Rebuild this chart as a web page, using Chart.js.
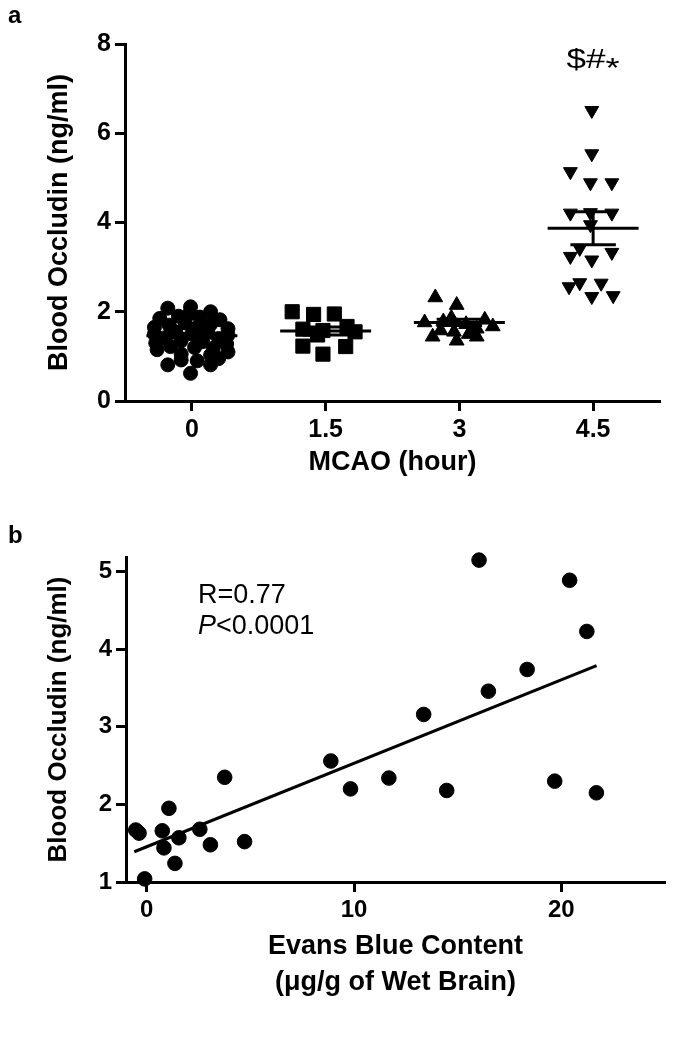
<!DOCTYPE html>
<html>
<head>
<meta charset="utf-8">
<script src="https://cdn.jsdelivr.net/npm/chart.js@4.4.0/dist/chart.umd.min.js"></script>
<style>
  html, body { margin: 0; padding: 0; background: #fff; }
  #wrap { position: relative; width: 675px; height: 1052px; }
  #chartA { position: absolute; left: 0; top: 0; }
  #chartB { position: absolute; left: 0; top: 480px; }
</style>
</head>
<body>
<div id="wrap">
  <canvas id="chartA" width="675" height="480"></canvas>
  <canvas id="chartB" width="675" height="572"></canvas>
</div>
<script>
// ---- panel a: occludin by MCAO duration ----
const hourLabels = ['0', '1.5', '3', '4.5'];
const yTicksA = [0, 2, 4, 6, 8];

const hour0 = [2.08, 2.11, 2.00, 1.85, 1.82, 1.90, 1.88, 1.95, 1.65, 1.62, 1.70, 1.72, 1.75, 1.68,
  1.50, 1.48, 1.55, 1.50, 1.55, 1.42, 1.40, 1.30, 1.28, 1.35, 1.33, 1.22, 1.20, 1.18,
  1.15, 1.10, 1.03, 1.05, 0.81, 0.81, 0.92, 0.95, 0.62, 0.90];
const hour0Jitter = [-0.18, -0.01, 0.14, -0.24, 0.21, -0.10, 0.06, -0.02, -0.28, 0.27, -0.17, 0.14, -0.05, 0.05,
  -0.28, 0.27, -0.12, 0.00, 0.12, -0.20, 0.20, -0.27, 0.26, -0.08, 0.08, -0.16, 0.02, 0.16,
  -0.26, 0.27, 0.14, -0.08, -0.18, 0.14, -0.08, 0.20, -0.01, 0.04];

const hour15 = [2.00, 1.94, 1.95, 1.61, 1.58, 1.67, 1.55, 1.48, 1.23, 1.05, 1.22];
const hour15Jitter = [-0.25, -0.09, 0.065, -0.17, -0.02, 0.16, 0.22, -0.06, -0.17, -0.02, 0.15];

const hour3 = [2.32, 2.15, 1.86, 1.82, 1.76, 1.67, 1.72, 1.78, 1.62, 1.55, 1.44, 1.44, 1.35, 1.50, 1.58];
const hour3Jitter = [-0.18, -0.02, -0.06, 0.19, -0.26, 0.25, 0.05, -0.12, 0.13, -0.04, -0.20, 0.13, -0.02, 0.07, -0.14];

const hour45 = [6.51, 5.54, 5.14, 4.89, 4.89, 4.21, 4.22, 4.21, 3.95, 3.42, 3.24, 3.16, 3.33, 2.56, 2.65, 2.64, 2.34, 2.36];
const hour45Jitter = [-0.01, -0.01, -0.17, -0.02, 0.14, -0.17, -0.02, 0.14, -0.02, -0.10, -0.17, -0.01, 0.14, -0.18, -0.10, 0.06, -0.01, 0.15];

const groupMeans = [1.46, 1.57, 1.76, 3.87];
const groupSems = [0.05, 0.09, 0.07, 0.37];

// ---- panel b: occludin vs Evans blue ----
const xTicksB = [0, 10, 20];
const yTicksB = [1, 2, 3, 4, 5];
const evansBlue = [-0.53, -0.37, -0.1, 0.75, 0.83, 1.07, 1.55, 1.36, 2.56, 3.07, 3.76, 4.72,
  8.88, 9.83, 11.68, 13.36, 14.47, 16.03, 16.48, 18.35, 19.68, 20.4, 21.23, 21.69];
const occludin = [1.67, 1.63, 1.04, 1.66, 1.44, 1.95, 1.57, 1.24, 1.68, 1.48, 2.35, 1.52,
  2.56, 2.20, 2.34, 3.16, 2.18, 5.15, 3.46, 3.74, 2.30, 4.89, 4.23, 2.15];
const fitX = [-0.6, 21.7];
const fitY = [1.39, 3.79];

const FONT = '"Liberation Sans", Arial, sans-serif';
const BLACK = '#000';

function groupPoints(vals, jitter, idx) {
  return vals.map((v, i) => ({ x: idx + jitter[i], y: v }));
}

function segment(x1, y1, x2, y2) {
  return {
    type: 'line', showLine: true, data: [{ x: x1, y: y1 }, { x: x2, y: y2 }],
    borderColor: BLACK, borderWidth: 3, pointRadius: 0, fill: false, clip: false
  };
}

function pointSet(data, style, radius, rotation) {
  return {
    data: data, pointStyle: style, pointRadius: radius, pointRotation: rotation || 0,
    backgroundColor: BLACK, borderColor: BLACK, borderWidth: 1, clip: false
  };
}

// mean lines and SEM bars for panel a
const summarySets = [];
groupMeans.forEach((m, i) => {
  const s = groupSems[i];
  summarySets.push(segment(i - 0.34, m, i + 0.34, m));
  summarySets.push(segment(i, m - s, i, m + s));
  summarySets.push(segment(i - 0.17, m + s, i + 0.17, m + s));
  summarySets.push(segment(i - 0.17, m - s, i + 0.17, m - s));
});

// extra text (panel letters, stats) drawn after each chart
function textPlugin(id, draw) {
  return {
    id: id,
    afterDraw(chart) {
      const ctx = chart.ctx;
      ctx.save();
      ctx.fillStyle = BLACK;
      draw(ctx, chart);
      ctx.restore();
    }
  };
}

function axisBase(titleText, titleSize, tickSize) {
  return {
    ticks: { color: BLACK, font: { family: FONT, size: tickSize, weight: 'bold' }, padding: 4, autoSkip: false, maxRotation: 0 },
    grid: { drawOnChartArea: false, tickLength: 10, tickWidth: 3, tickColor: BLACK },
    border: { width: 3, color: BLACK },
    title: { display: true, text: titleText, color: BLACK, font: { family: FONT, size: titleSize, weight: 'bold', lineHeight: 1.2 }, padding: 0 }
  };
}

// ---- chart a ----
const xA = axisBase('MCAO (hour)', 27, 25);
Object.assign(xA, {
  type: 'linear', min: -0.5, max: 3.5,
  afterBuildTicks: s => { s.ticks = hourLabels.map((l, i) => ({ value: i })); },
  afterFit: s => { s.height = 79; }
});
xA.ticks.callback = v => hourLabels[v];
xA.title.padding = { top: 0, bottom: 1 };

const yA = axisBase('Blood Occludin (ng/ml)', 27, 25);
Object.assign(yA, {
  min: 0, max: 8,
  afterBuildTicks: s => { s.ticks = yTicksA.map(v => ({ value: v })); },
  afterFit: s => { s.width = 82; }
});

new Chart(document.getElementById('chartA'), {
  type: 'scatter',
  data: {
    datasets: [
      pointSet(groupPoints(hour0, hour0Jitter, 0), 'circle', 7),
      pointSet(groupPoints(hour15, hour15Jitter, 1), 'rect', 10),
      pointSet(groupPoints(hour3, hour3Jitter, 2), 'triangle', 8.5),
      pointSet(groupPoints(hour45, hour45Jitter, 3), 'triangle', 8, 180)
    ].concat(summarySets)
  },
  options: {
    responsive: false,
    animation: false,
    layout: { padding: { left: 43, right: 15, top: 44, bottom: 0 } },
    plugins: { legend: { display: false }, tooltip: { enabled: false } },
    scales: { x: xA, y: yA }
  },
  plugins: [textPlugin('textA', (ctx, chart) => {
    ctx.font = 'bold 24px ' + FONT;
    ctx.textBaseline = 'alphabetic';
    ctx.fillText('a', 8, 23);
    // significance marks above the 4.5 h group (drawn a little wide, like the figure)
    const x = chart.scales.x.getPixelForValue(3);
    const y = chart.scales.y.getPixelForValue(7.62);
    ctx.translate(x, y);
    ctx.scale(1.3, 1);
    ctx.textBaseline = 'middle';
    ctx.font = '27px ' + FONT;
    const w1 = ctx.measureText('$#').width;
    ctx.font = '28px ' + FONT;
    const w2 = ctx.measureText('*').width;
    const left = -(w1 + w2) / 2;
    ctx.font = '27px ' + FONT;
    ctx.fillText('$#', left, 0);
    ctx.font = '28px ' + FONT;
    ctx.fillText('*', left + w1, 8);
  })]
});

// ---- chart b ----
const xB = axisBase(['Evans Blue Content', '(\u03bcg/g of Wet Brain)'], 27, 24);
Object.assign(xB, {
  type: 'linear', min: -1, max: 25,
  afterBuildTicks: s => { s.ticks = xTicksB.map(v => ({ value: v })); },
  afterFit: s => { s.height = 170; }
});
xB.title.font.lineHeight = 1.32;
xB.title.padding = { top: 0, bottom: 52 };

const yB = axisBase('Blood Occludin (ng/ml)', 26, 24);
Object.assign(yB, {
  min: 1, max: 5.19,
  afterBuildTicks: s => { s.ticks = yTicksB.map(v => ({ value: v })); },
  afterFit: s => { s.width = 83; }
});

new Chart(document.getElementById('chartB'), {
  type: 'scatter',
  data: {
    datasets: [
      pointSet(evansBlue.map((x, i) => ({ x: x, y: occludin[i] })), 'circle', 7.3),
      segment(fitX[0], fitY[0], fitX[1], fitY[1])
    ]
  },
  options: {
    responsive: false,
    animation: false,
    layout: { padding: { left: 43, right: 10, top: 77, bottom: 0 } },
    plugins: { legend: { display: false }, tooltip: { enabled: false } },
    scales: { x: xB, y: yB }
  },
  plugins: [textPlugin('textB', (ctx) => {
    ctx.textBaseline = 'alphabetic';
    ctx.font = 'bold 24px ' + FONT;
    ctx.fillText('b', 8, 63);
    ctx.font = '27px ' + FONT;
    ctx.fillText('R=0.77', 198, 123);
    ctx.font = 'italic 27px ' + FONT;
    ctx.fillText('P', 198, 154);
    const pw = ctx.measureText('P').width;
    ctx.font = '27px ' + FONT;
    ctx.fillText('<0.0001', 198 + pw, 154);
  })]
});
</script>
</body>
</html>
